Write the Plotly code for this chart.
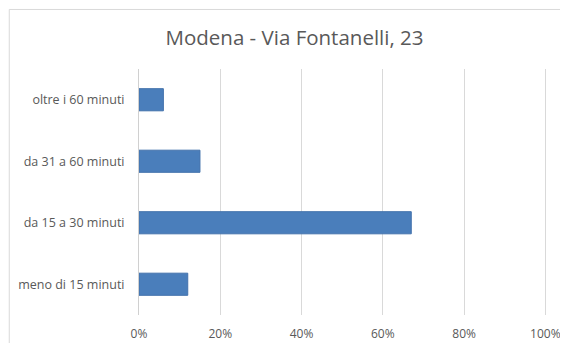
import plotly.graph_objects as go

categories = ["meno di 15 minuti", "da 15 a 30 minuti", "da 31 a 60 minuti", "oltre i 60 minuti"]
values = [0.12, 0.67, 0.15, 0.06]
tick_vals = [0, 0.2, 0.4, 0.6, 0.8, 1.0]
tick_text = ["0%", "20%", "40%", "60%", "80%", "100%"]
title_text = "Modena - Via Fontanelli, 23"

# the page body has an 8px margin, so the figure is 8px smaller and shifted
W, H = 560, 335

fig = go.Figure()
fig.add_trace(go.Bar(
    x=values, y=categories, orientation="h",
    marker=dict(color="#4a7ebb", line=dict(color="#4372ac", width=1)),
    width=0.36,
))

fig.update_layout(
    width=W, height=H,
    margin=dict(l=131, r=21, t=61, b=28),
    paper_bgcolor="white", plot_bgcolor="white",
    showlegend=False,
    title=dict(text=title_text, x=286.5 / W, xanchor="center", y=1 - 29.5 / H, yanchor="middle",
               font=dict(family="Open Sans", size=20.5, color="#595959")),
    font=dict(family="Open Sans", color="#595959"),
    xaxis=dict(range=[0, 1.004], tickvals=tick_vals, ticktext=tick_text,
               showgrid=True, gridcolor="#d9d9d9", gridwidth=1,
               zeroline=False, showline=False, ticks="", automargin=False,
               tickfont=dict(size=12, color="#595959"), ticklabelstandoff=10),
    yaxis=dict(categoryorder="array", categoryarray=categories,
               showgrid=False, zeroline=False, showline=True, linecolor="#d0d0d0", linewidth=1,
               ticks="", automargin=False,
               tickfont=dict(size=12.5, color="#595959"), ticklabelstandoff=11),
    shapes=[dict(type="rect", xref="paper", yref="paper",
                 x0=-0.318, x1=1.08, y0=-0.2, y1=1.242,
                 line=dict(color="#d9d9d9", width=1), fillcolor="rgba(0,0,0,0)", layer="below")],
)

fig.write_html("out.html")
